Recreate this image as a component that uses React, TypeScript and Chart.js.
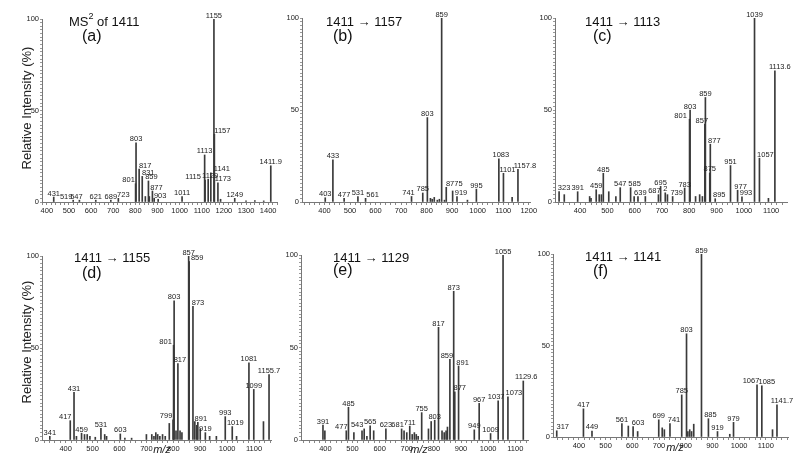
import React, { useEffect, useRef } from "react";
import { Chart, registerables } from "chart.js";

Chart.register(...registerables);

// ---------------- DATA ----------------
// (a) MS2 of 1411
const aMz = [431, 519, 547, 621, 689, 723, 801, 803, 817, 831, 845, 859, 863, 877, 885, 903, 1011, 1113, 1115, 1129, 1141, 1155, 1157, 1173, 1185, 1249, 1300, 1340, 1380, 1411.9];
const aInt = [2.7, 1, 1, 1, 1, 2, 10, 32.4, 18, 14, 3, 11.5, 3, 6, 2, 1.5, 3, 25.7, 12, 12.5, 16, 100, 37, 10.5, 1.5, 2, 0.6, 0.8, 0.6, 19.8];
const aLab = ["431", "519", "547", "621", "689", "723", "801", "803", "817", "831", "", "859", "", "877", "", "903", "1011", "1113", "1115", "1129", "1141", "1155", "1157", "1173", "", "1249", "", "", "", "1411.9"];

// (b) 1411 -> 1157
const bMz = [403, 433, 477, 531, 561, 741, 785, 803, 815, 822, 830, 842, 850, 859, 870, 877, 902, 919, 960, 995, 1083, 1101, 1135, 1157.8];
const bInt = [2.3, 22.9, 2, 3, 2, 3, 4.9, 45.9, 2, 1.5, 2.5, 1, 1.5, 100, 1, 8, 6, 3, 1, 7, 23.4, 15.6, 2.5, 17.8];
const bLab = ["403", "433", "477", "531", "561", "741", "785", "803", "", "", "", "", "", "859", "", "8775", "", "919", "", "995", "1083", "1101", "", "1157.8"];

// (c) 1411 -> 1113
const cMz = [323, 342, 391, 435, 440, 459, 470, 478, 485, 505, 531, 547, 585, 598, 612, 639, 687, 695, 712, 720, 739, 783, 801, 803, 823, 838, 848, 857, 859, 875, 877, 895, 951, 977, 993, 1039, 1057, 1090, 1113.6];
const cInt = [5.6, 4, 5.6, 3, 2, 6.7, 4, 4, 15.6, 5.6, 3, 7.8, 7.8, 3, 3, 3, 4, 8.5, 5, 4, 3, 7.6, 45, 50, 3, 4, 3, 42.3, 56.8, 15.8, 31.4, 1.8, 19.8, 6.4, 2.8, 100, 23.8, 2, 71.3];
const cLab = ["323", "", "391", "", "", "459", "", "", "485", "", "", "547", "585", "", "", "639", "687", "695", "2", "", "739", "783", "801", "803", "", "", "", "857", "859", "875", "877", "895", "951", "977", "993", "1039", "1057", "", "1113.6"];

// (d) 1411 -> 1155
const dMz = [341, 417, 431, 440, 459, 470, 480, 490, 510, 531, 545, 552, 603, 620, 645, 700, 720, 728, 735, 742, 750, 760, 770, 785, 799, 801, 803, 810, 817, 825, 832, 857, 859, 873, 880, 887, 891, 900, 919, 935, 960, 993, 1019, 1035, 1081, 1099, 1135, 1155.7];
const dInt = [2, 10.5, 25.9, 2, 3.7, 3, 3, 2, 1.5, 6.3, 3, 2, 3.3, 1, 1, 3, 3, 2, 4, 3, 2, 3, 2, 9, 11, 51.5, 75.6, 5, 41.6, 5, 4, 100, 97, 72.7, 10, 8, 9.6, 6, 4, 2, 2, 12.7, 7.3, 2, 42, 27.5, 10, 35.6];
const dLab = ["341", "417", "431", "", "459", "", "", "", "", "531", "", "", "603", "", "", "", "", "", "", "", "", "", "", "", "799", "801", "803", "", "817", "", "", "857", "859", "873", "", "", "891", "", "919", "", "", "993", "1019", "", "1081", "1099", "", "1155.7"];

// (e) 1411 -> 1129
const eMz = [391, 398, 477, 485, 505, 535, 543, 553, 565, 578, 623, 681, 690, 700, 711, 720, 728, 735, 742, 755, 780, 790, 803, 817, 830, 838, 845, 850, 859, 873, 877, 891, 949, 967, 1009, 1037, 1055, 1073, 1129.6];
const eInt = [8.1, 5, 5, 17.7, 4, 5, 6, 2, 7.6, 5, 6, 6, 5, 4, 7.5, 3, 4, 3, 2, 14.8, 6, 10, 10.7, 60.9, 5, 4, 5, 7, 43.6, 80.4, 26, 40, 5.5, 19.8, 3.5, 21.2, 100, 23.4, 31.9];
const eLab = ["391", "", "477", "485", "", "", "543", "", "565", "", "623", "681", "", "", "711", "", "", "", "", "755", "", "", "803", "817", "", "", "", "", "859", "873", "877", "891", "949", "967", "1009", "1037", "1055", "1073", "1129.6"];

// (f) 1411 -> 1141
const fMz = [317, 417, 449, 561, 585, 603, 620, 699, 712, 720, 741, 785, 803, 808, 815, 822, 830, 859, 885, 919, 965, 979, 1067, 1085, 1125, 1141.7];
const fInt = [3.4, 15.4, 3.3, 7.3, 6, 5.7, 3, 9.4, 5, 4, 7.3, 23, 56.4, 3, 4, 3, 7, 100, 10, 3, 1.5, 8, 28.5, 28, 4, 17.6];
const fLab = ["317", "417", "449", "561", "", "603", "", "699", "", "", "741", "785", "803", "", "", "", "", "859", "885", "919", "", "979", "1067", "1085", "", "1141.7"];

// panel titles
const titles = ["1411", "1411 \u2192 1157", "1411 \u2192 1113", "1411 \u2192 1155", "1411 \u2192 1129", "1411 \u2192 1141"];
const tags = ["(a)", "(b)", "(c)", "(d)", "(e)", "(f)"];
const yTitle = "Relative Intensity (%)";
const xTitle = "m/z";

// ---------------- STYLE / LAYOUT ----------------
const FONT = '"Liberation Sans", Arial, sans-serif';
const YW = 20;
const XH = 14;

type Panel = {
  mz: number[]; int: number[]; lab: string[];
  l: number; r: number; t: number; b: number; min: number; max: number;
  offs: Record<string, number>;
  title: string; tag: string; tx: number; ty: number; gx: number; gy: number;
  ms2?: boolean; yt?: [number, number]; mzPos?: [number, number];
};

const panels: Panel[] = [
  { mz: aMz, int: aInt, lab: aLab, l: 42, r: 277, t: 19, b: 202, min: 378, max: 1440,
    offs: { "519": -7, "547": -3, "723": 5, "801": -7, "817": 6, "831": 6, "859": 3, "877": 4, "903": 2, "1115": -12, "1129": 2, "1141": 11, "1157": 8, "1173": 5 },
    title: titles[0], tag: tags[0], tx: 69, ty: 22, gx: 82, gy: 37, ms2: true, yt: [27, 108] },
  { mz: bMz, int: bInt, lab: bLab, l: 302, r: 530, t: 18, b: 202, min: 312, max: 1205,
    offs: { "561": 7, "741": -3, "8775": 8, "919": 4, "1083": 2, "1101": 4, "1157.8": 7 },
    title: titles[1], tag: tags[1], tx: 326, ty: 22, gx: 333, gy: 37 },
  { mz: cMz, int: cInt, lab: cLab, l: 555, r: 787, t: 18, b: 202, min: 308, max: 1158,
    offs: { "323": 5, "585": 4, "639": -5, "687": -4, "739": 4, "801": -9, "857": -3, "877": 4, "895": 4, "977": 3, "993": 4, "1057": 6, "1113.6": 5 },
    title: titles[2], tag: tags[2], tx: 585, ty: 22, gx: 593, gy: 37 },
  { mz: dMz, int: dInt, lab: dLab, l: 42, r: 271, t: 256, b: 440, min: 312, max: 1163,
    offs: { "417": -5, "799": -7, "801": -8, "817": 2, "859": 8, "873": 5, "891": 3, "1019": 3 },
    title: titles[3], tag: tags[3], tx: 74, ty: 258, gx: 82, gy: 274, yt: [27, 342], mzPos: [162, 450] },
  { mz: eMz, int: eInt, lab: eLab, l: 301, r: 528, t: 255, b: 440, min: 310, max: 1147,
    offs: { "477": -5, "543": -7, "681": -4, "859": -3, "877": 5, "891": 4, "1037": -2, "1073": 6, "1129.6": 3 },
    title: titles[4], tag: tags[4], tx: 333, ty: 258, gx: 333, gy: 271, mzPos: [419, 450] },
  { mz: fMz, int: fInt, lab: fLab, l: 553, r: 788, t: 254, b: 437, min: 303, max: 1183,
    offs: { "317": 6, "603": 5, "741": 4, "885": 2, "1067": -6, "1085": 5, "1141.7": 5 },
    title: titles[5], tag: tags[5], tx: 585, ty: 257, gx: 593, gy: 272, mzPos: [675, 448] },
];

function makeConfig(p: Panel): any {
  const xt: number[] = [];
  for (let v = Math.ceil(p.min / 20) * 20; v <= p.max; v += 20) xt.push(v);
  const yt: number[] = [];
  for (let v = 0; v <= 100; v += 2) yt.push(v);

  const labelPlugin = {
    id: "peakLabels",
    afterDatasetsDraw(chart: any) {
      const ctx = chart.ctx;
      const meta = chart.getDatasetMeta(0);
      ctx.save();
      ctx.font = `7.5px ${FONT}`;
      ctx.fillStyle = "#222";
      ctx.textAlign = "center";
      ctx.textBaseline = "alphabetic";
      meta.data.forEach((el: any, i: number) => {
        const t = p.lab[i];
        if (!t) return;
        const dx = p.offs[t] || 0;
        ctx.fillText(t, el.x + dx, el.y - 1.5);
      });
      ctx.restore();
    },
  };

  const textPlugin = {
    id: "panelText",
    afterDraw(chart: any) {
      const ctx = chart.ctx;
      ctx.save();
      ctx.fillStyle = "#111";
      ctx.textBaseline = "middle";
      ctx.textAlign = "left";
      if (p.ms2) {
        ctx.font = `13px ${FONT}`;
        ctx.fillText("MS", p.tx, p.ty);
        const w1 = ctx.measureText("MS").width;
        ctx.font = `9px ${FONT}`;
        ctx.fillText("2", p.tx + w1, p.ty - 5);
        const w2 = ctx.measureText("2").width;
        ctx.font = `13px ${FONT}`;
        ctx.fillText(" of " + p.title, p.tx + w1 + w2, p.ty);
      } else {
        ctx.font = `13px ${FONT}`;
        ctx.fillText(p.title, p.tx, p.ty);
      }
      ctx.font = `16px ${FONT}`;
      ctx.fillText(p.tag, p.gx, p.gy);
      if (p.yt) {
        ctx.save();
        ctx.translate(p.yt[0], p.yt[1]);
        ctx.rotate(-Math.PI / 2);
        ctx.textAlign = "center";
        ctx.font = `13px ${FONT}`;
        ctx.fillStyle = "#222";
        ctx.fillText(yTitle, 0, 0);
        ctx.restore();
      }
      if (p.mzPos) {
        ctx.textAlign = "center";
        ctx.font = `italic 11px ${FONT}`;
        ctx.fillStyle = "#222";
        ctx.fillText(xTitle, p.mzPos[0], p.mzPos[1]);
      }
      ctx.restore();
    },
  };

  return {
    type: "bar",
    data: {
      datasets: [
        {
          data: p.mz.map((x, i) => ({ x, y: p.int[i] })),
          backgroundColor: "#3a3a3a",
          borderWidth: 0,
          barThickness: 1,
          grouped: false,
        },
      ],
    },
    options: {
      responsive: false,
      animation: false,
      devicePixelRatio: 1,
      layout: {
        padding: { left: p.l - YW, right: 800 - p.r, top: p.t, bottom: 462 - p.b - XH },
      },
      plugins: { legend: { display: false }, tooltip: { enabled: false }, title: { display: false } },
      scales: {
        x: {
          type: "linear",
          min: p.min,
          max: p.max,
          offset: false,
          afterFit: (s: any) => { s.height = XH; },
          afterBuildTicks: (s: any) => { s.ticks = xt.map((v) => ({ value: v })); },
          grid: { display: true, drawOnChartArea: false, drawTicks: true, tickLength: 3, color: "#888", offset: false },
          border: { display: true, color: "#777", width: 1 },
          ticks: {
            autoSkip: false, maxRotation: 0, minRotation: 0, padding: 1,
            color: "#222", font: { family: FONT, size: 7.5 },
            callback: (v: number) => (v % 100 === 0 ? String(v) : ""),
          },
        },
        y: {
          type: "linear",
          min: 0,
          max: 100,
          afterFit: (s: any) => { s.width = YW; },
          afterBuildTicks: (s: any) => { s.ticks = yt.map((v) => ({ value: v })); },
          grid: { display: true, drawOnChartArea: false, drawTicks: true, tickLength: 2, color: "#999" },
          border: { display: true, color: "#777", width: 1 },
          ticks: {
            autoSkip: false, padding: 1,
            color: "#222", font: { family: FONT, size: 7.5 },
            callback: (v: number) => (v === 0 || v === 50 || v === 100 ? String(v) : ""),
          },
        },
      },
    },
    plugins: [labelPlugin, textPlugin],
  };
}

function SpectrumPanel({ p }: { p: Panel }) {
  const ref = useRef<HTMLCanvasElement>(null);
  useEffect(() => {
    const chart = new Chart(ref.current as HTMLCanvasElement, makeConfig(p));
    return () => chart.destroy();
  }, [p]);
  return (
    <canvas
      ref={ref}
      width={800}
      height={462}
      style={{ position: "absolute", left: 0, top: 0, width: 800, height: 462 }}
    />
  );
}

export default function App() {
  return (
    <div style={{ position: "fixed", left: 0, top: 0, width: 800, height: 462, background: "#fff", overflow: "hidden" }}>
      {panels.map((p, i) => (
        <SpectrumPanel key={i} p={p} />
      ))}
    </div>
  );
}
